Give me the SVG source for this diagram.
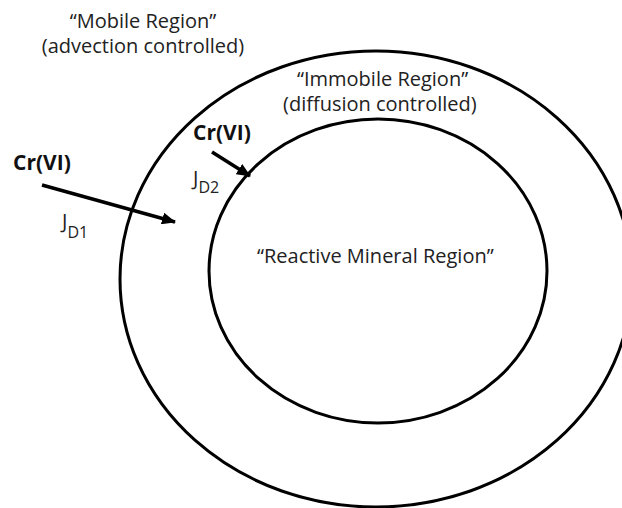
<svg xmlns="http://www.w3.org/2000/svg" width="622" height="508" viewBox="0 0 622 508">
<style>
.ring{fill:none;stroke:#000;stroke-width:3}
.lbl{font-family:"Open Sans","Liberation Sans",sans-serif;font-size:20px;fill:#222}
.bold{font-family:"Open Sans","Liberation Sans",sans-serif;font-size:21px;font-weight:bold;fill:#111}
.sub{font-size:16px}
.arr{stroke:#000;stroke-width:3.5;fill:none;marker-end:url(#ah)}
</style>
<defs>
<marker id="ah" markerUnits="userSpaceOnUse" viewBox="0 0 14 12" refX="13" refY="6" markerWidth="14" markerHeight="12" orient="auto">
<path d="M0,0 L14,6 L0,12 Z" fill="#000"/>
</marker>
</defs>
<g id="mobile-region">
<ellipse class="ring" cx="376" cy="279" rx="256" ry="228"/>
<text class="lbl" x="143" y="28" text-anchor="middle">“Mobile Region”</text>
<text class="lbl" x="143" y="53" text-anchor="middle">(advection controlled)</text>
</g>
<g id="immobile-region">
<ellipse class="ring" cx="378" cy="271" rx="169" ry="152"/>
<text class="lbl" x="297" y="86">“Immobile Region”</text>
<text class="lbl" x="283" y="111">(diffusion controlled)</text>
</g>
<g id="reactive-region">
<text class="lbl" x="257" y="263">“Reactive Mineral Region”</text>
</g>
<g id="cr-outer">
<text class="bold" x="13" y="170">Cr(VI)</text>
<text class="lbl" x="62" y="228">J<tspan class="sub" dy="10">D1</tspan></text>
</g>
<g id="cr-inner">
<text class="bold" x="193" y="140">Cr(VI)</text>
<text class="lbl" x="193" y="185">J<tspan class="sub" dy="8">D2</tspan></text>
</g>
<g id="connectors">
<line class="arr" x1="42" y1="185" x2="175" y2="222"/>
<line class="arr" x1="212" y1="152" x2="250" y2="176"/>
</g>
</svg>
